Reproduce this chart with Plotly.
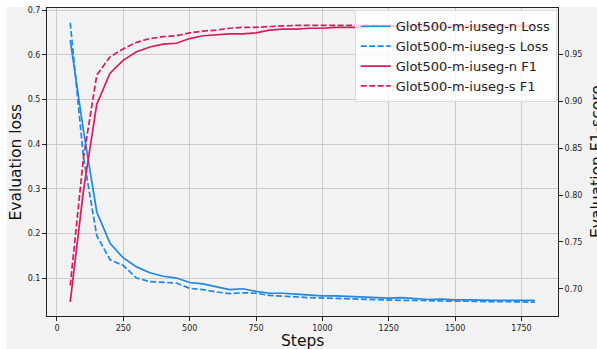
import plotly.graph_objects as go

steps = list(range(50, 1801, 50))

loss_n = [0.633, 0.43, 0.248, 0.178, 0.145, 0.125, 0.112, 0.104, 0.100, 0.090,
          0.087, 0.080, 0.074, 0.076, 0.070, 0.066, 0.066, 0.064, 0.062, 0.060,
          0.060, 0.059, 0.058, 0.056, 0.055, 0.056, 0.054, 0.052, 0.053, 0.051,
          0.051, 0.050, 0.050, 0.050, 0.050, 0.050]
loss_s = [0.672, 0.37, 0.195, 0.141, 0.128, 0.100, 0.092, 0.090, 0.089, 0.077,
          0.074, 0.069, 0.065, 0.067, 0.066, 0.061, 0.060, 0.058, 0.056, 0.055,
          0.055, 0.054, 0.053, 0.052, 0.051, 0.050, 0.050, 0.049, 0.049, 0.048,
          0.048, 0.047, 0.047, 0.047, 0.046, 0.046]
f1_n = [0.686, 0.805, 0.897, 0.930, 0.944, 0.953, 0.958, 0.961, 0.962, 0.967,
        0.970, 0.971, 0.972, 0.972, 0.973, 0.976, 0.977, 0.977, 0.978, 0.978,
        0.979, 0.979, 0.979, 0.980, 0.980, 0.980, 0.980, 0.980, 0.980, 0.980,
        0.980, 0.980, 0.980, 0.980, 0.980, 0.980]
f1_s = [0.7035, 0.84, 0.928, 0.9475, 0.956, 0.963, 0.967, 0.969, 0.970, 0.973,
        0.975, 0.976, 0.978, 0.979, 0.979, 0.980, 0.9805, 0.981, 0.981, 0.981,
        0.981, 0.981, 0.981, 0.981, 0.981, 0.981, 0.981, 0.981, 0.981, 0.981,
        0.981, 0.981, 0.981, 0.981, 0.981, 0.981]

names = ["Glot500-m-iuseg-n Loss", "Glot500-m-iuseg-s Loss",
         "Glot500-m-iuseg-n F1", "Glot500-m-iuseg-s F1"]

x_ticks = list(range(0, 1751, 250))
y1_ticks = [0.1, 0.2, 0.3, 0.4, 0.5, 0.6, 0.7]
y2_ticks = [0.70, 0.75, 0.80, 0.85, 0.90, 0.95]

BLUE = "#1E88E5"
RED = "#D81B60"
DASH = "6px,2.5px"
FONT = "DejaVu Sans"

fig = go.Figure()
fig.add_trace(go.Scatter(x=steps, y=loss_n, name=names[0], mode="lines",
                         line=dict(color=BLUE, width=1.7), yaxis="y"))
fig.add_trace(go.Scatter(x=steps, y=loss_s, name=names[1], mode="lines",
                         line=dict(color=BLUE, width=1.7, dash=DASH), yaxis="y"))
fig.add_trace(go.Scatter(x=steps, y=f1_n, name=names[2], mode="lines",
                         line=dict(color=RED, width=1.7), yaxis="y2"))
fig.add_trace(go.Scatter(x=steps, y=f1_s, name=names[3], mode="lines",
                         line=dict(color=RED, width=1.7, dash=DASH), yaxis="y2"))

W, H = 597, 349
L, R, T, B = 47, 39, 6, 33
pw, ph = W - L - R, H - T - B

def px(x):
    return (x - L) / pw

def py(y):
    return (H - B - y) / ph

axis_common = dict(showline=True, linecolor="#222", linewidth=1, ticks="outside",
                   ticklen=4, tickcolor="#222", tickwidth=1,
                   tickfont=dict(family=FONT, size=8, color="#222"), zeroline=False)

fig.update_layout(
    width=W, height=H,
    margin=dict(l=L, r=R, t=T, b=B, pad=0),
    paper_bgcolor="white",
    plot_bgcolor="#f2f2f2",
    font=dict(family=FONT, color="#222"),
    xaxis=dict(range=[-37.5, 1887.5], tickvals=x_ticks, mirror=True,
               showgrid=True, gridcolor="#cbcbcb", gridwidth=1, **axis_common),
    yaxis=dict(range=[0.015, 0.705], tickvals=y1_ticks, tickformat=".1f",
               showgrid=True, gridcolor="#cbcbcb", gridwidth=1, **axis_common),
    yaxis2=dict(range=[0.671, 0.9996], tickvals=y2_ticks, tickformat=".2f",
                overlaying="y", side="right", showgrid=False, **axis_common),
    legend=dict(x=px(556.7), xanchor="right", y=py(8.3), yanchor="top",
                bgcolor="rgba(255,255,255,0.8)", bordercolor="#dddddd", borderwidth=1,
                font=dict(family=FONT, size=13, color="#222"),
                tracegroupgap=0),
    showlegend=True,
    shapes=[dict(type="rect", xref="paper", yref="paper", layer="below",
                 x0=px(7), x1=px(600), y0=py(352), y1=py(5),
                 fillcolor="#f2f2f2", line=dict(width=0))],
    annotations=[
        dict(text="Evaluation loss", xref="paper", yref="paper", x=px(15.5), y=0.5,
             xanchor="center", yanchor="middle", textangle=-90, showarrow=False,
             font=dict(family=FONT, size=15.5, color="#111")),
        dict(text="Evaluation F1-score", xref="paper", yref="paper", x=px(586), y=0.5,
             xanchor="left", yanchor="middle", textangle=-90, showarrow=False,
             font=dict(family=FONT, size=15.5, color="#111")),
        dict(text="Steps", xref="paper", yref="paper", x=0.5, y=py(341),
             xanchor="center", yanchor="middle", showarrow=False,
             font=dict(family=FONT, size=15.5, color="#111")),
    ],
)

fig.write_html("out.html", config={"displayModeBar": False},
               post_script="document.body.style.margin='0';document.body.style.overflow='hidden';")
